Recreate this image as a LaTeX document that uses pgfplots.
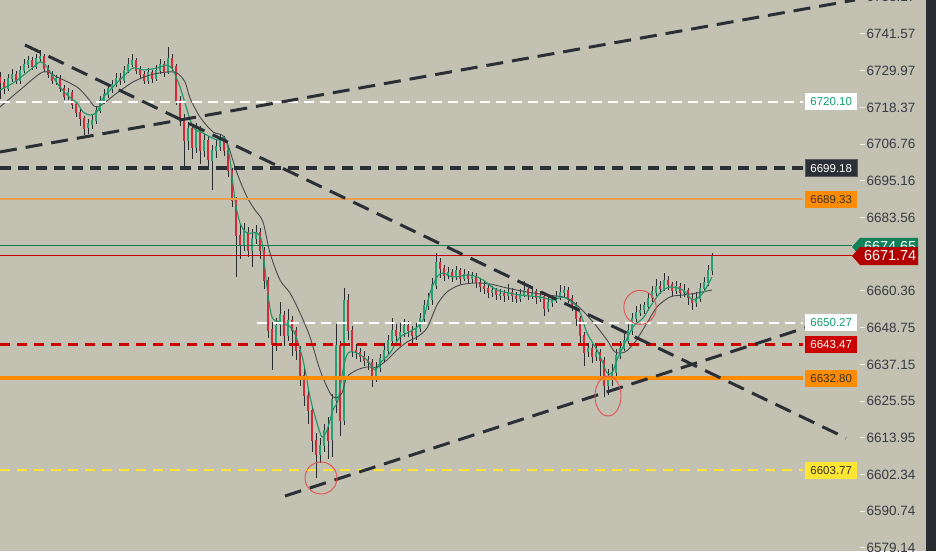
\documentclass[border=0pt]{standalone}
\usepackage{pgfplots}
\pgfplotsset{compat=1.18}
\usepackage{pgfplotstable}
\usepackage{fontspec}
\setmainfont{Liberation Sans}
\definecolor{bg}{RGB}{194,193,178}
\definecolor{stripe}{RGB}{40,43,47}
\definecolor{wick}{RGB}{40,44,48}
\definecolor{upc}{RGB}{38,161,116}
\definecolor{dnc}{RGB}{214,40,57}
\definecolor{magreen}{RGB}{30,150,105}
\definecolor{magray}{RGB}{70,73,76}
\definecolor{trend}{RGB}{43,48,54}
\definecolor{lred}{RGB}{204,0,0}
\definecolor{lorange}{RGB}{255,140,0}
\definecolor{lorange2}{RGB}{232,160,80}
\definecolor{lyellow}{RGB}{255,230,50}
\definecolor{lgreen}{RGB}{20,120,80}
\definecolor{tagred}{RGB}{178,0,0}
\definecolor{taggreen}{RGB}{16,128,88}
\definecolor{txtgreen}{RGB}{20,160,110}
\definecolor{ticktxt}{RGB}{55,60,66}
\definecolor{circred}{RGB}{228,80,80}

\pgfplotstableread{
x o h l c
0 6728.0 6729.5 6721.0 6726.40
4 6726.40 6727.5 6722.8 6724.50
8 6724.50 6729.0 6723.6 6727.66
12 6727.66 6730.6 6726.5 6728.93
16 6728.93 6730.0 6725.8 6727.03
20 6727.03 6731.6 6726.0 6730.19
24 6730.19 6733.8 6729.2 6732.09
28 6732.09 6734.6 6730.8 6733.35
32 6733.35 6734.4 6730.2 6731.45
36 6731.45 6735.3 6730.6 6733.98
40 6733.98 6736.6 6732.8 6734.61
44 6734.61 6735.4 6729.7 6730.82
48 6730.82 6731.9 6727.6 6728.93
52 6728.93 6730.1 6725.9 6727.03
56 6727.03 6728.8 6725.6 6727.66
60 6727.66 6728.6 6723.2 6724.50
64 6724.50 6725.5 6720.6 6721.97
68 6721.97 6724.6 6720.8 6723.24
72 6723.24 6724.0 6718.0 6719.45
76 6719.45 6720.3 6715.5 6716.92
80 6716.92 6718.1 6712.6 6715.02
84 6715.02 6715.8 6709.6 6711.86
88 6711.86 6714.6 6709.9 6713.13
92 6713.13 6716.2 6711.8 6714.39
96 6714.39 6718.9 6713.4 6717.55
100 6717.55 6722.0 6716.6 6720.71
104 6720.71 6724.2 6719.6 6722.61
108 6722.61 6726.0 6721.4 6724.50
112 6724.50 6727.3 6723.0 6725.77
116 6725.77 6729.2 6724.8 6727.66
120 6727.66 6729.5 6725.6 6727.03
124 6727.03 6731.4 6726.2 6730.19
128 6730.19 6733.9 6729.3 6732.09
132 6732.09 6735.2 6731.0 6733.35
136 6733.35 6734.0 6729.0 6730.19
140 6730.19 6731.5 6727.4 6728.93
144 6728.93 6729.8 6725.7 6727.03
148 6727.03 6731.0 6726.0 6729.56
152 6729.56 6730.4 6726.2 6727.66
156 6727.66 6731.8 6726.8 6730.19
160 6730.19 6733.6 6729.0 6732.09
164 6732.09 6733.0 6728.2 6729.56
168 6729.56 6737.5 6729.0 6733.98
172 6733.98 6735.2 6729.8 6731.45
176 6731.45 6732.0 6719.0 6720.71
180 6720.71 6722.0 6712.5 6715.02
184 6715.02 6716.3 6699.5 6708.07
188 6708.07 6713.8 6705.0 6711.86
192 6711.86 6713.0 6702.0 6705.54
196 6705.54 6713.5 6704.0 6711.23
200 6711.23 6712.5 6700.5 6704.91
204 6704.91 6710.2 6702.8 6708.07
208 6708.07 6709.3 6699.0 6701.75
212 6701.75 6706.5 6692.3 6704.91
216 6704.91 6708.0 6702.5 6706.17
220 6706.17 6709.8 6704.6 6708.07
224 6708.07 6709.5 6703.2 6704.91
228 6704.91 6706.0 6696.5 6698.59
232 6698.59 6699.5 6687.0 6689.11
236 6689.11 6690.0 6664.8 6678.05
240 6678.05 6681.5 6670.5 6674.89
244 6674.89 6682.0 6673.0 6679.00
248 6679.00 6680.5 6671.0 6673.31
252 6673.31 6679.8 6668.0 6677.10
256 6677.10 6681.3 6675.2 6679.00
260 6679.00 6680.2 6670.5 6673.31
264 6673.31 6674.2 6661.0 6663.83
268 6663.83 6665.0 6645.5 6648.03
272 6648.03 6650.5 6635.4 6643.29
276 6643.29 6652.0 6641.5 6649.61
280 6649.61 6657.0 6646.0 6652.77
284 6652.77 6654.0 6643.0 6646.45
288 6646.45 6654.8 6644.5 6651.19
292 6651.19 6652.5 6640.0 6648.03
296 6648.03 6649.0 6638.5 6641.71
300 6641.71 6643.0 6630.5 6633.81
304 6633.81 6636.0 6624.0 6627.49
308 6627.49 6630.0 6618.5 6622.75
312 6622.75 6624.0 6609.5 6613.27
316 6613.27 6615.5 6601.5 6608.53
320 6608.53 6614.0 6606.0 6611.69
324 6611.69 6618.5 6609.5 6616.43
328 6616.43 6620.5 6607.5 6613.27
332 6613.27 6628.0 6608.0 6625.91
336 6625.91 6650.0 6622.0 6643.29
340 6643.29 6644.5 6614.5 6619.59
344 6619.59 6661.3 6618.0 6657.51
348 6657.51 6659.5 6645.0 6648.03
352 6648.03 6649.5 6639.5 6641.71
356 6641.71 6643.5 6639.0 6641.08
360 6641.08 6642.5 6638.0 6639.81
364 6639.81 6641.5 6636.8 6638.55
368 6638.55 6640.0 6635.5 6637.92
372 6637.92 6639.0 6630.0 6633.81
376 6633.81 6638.0 6631.5 6636.02
380 6636.02 6640.5 6634.8 6639.18
384 6639.18 6644.0 6638.0 6641.71
388 6641.71 6646.5 6640.5 6644.87
392 6644.87 6652.0 6643.5 6648.03
396 6648.03 6650.0 6644.5 6646.45
400 6646.45 6650.3 6643.8 6647.40
404 6647.40 6651.5 6645.8 6649.61
408 6649.61 6651.0 6646.0 6648.03
412 6648.03 6649.5 6643.5 6646.45
416 6646.45 6650.5 6645.0 6648.66
420 6648.66 6653.5 6647.5 6651.82
424 6651.82 6657.5 6650.5 6655.93
428 6655.93 6659.8 6654.5 6657.51
432 6657.51 6664.5 6656.0 6662.25
436 6662.25 6672.4 6661.0 6669.52
440 6669.52 6670.8 6664.5 6667.62
444 6667.62 6668.5 6663.5 6665.41
448 6665.41 6668.0 6664.0 6666.36
452 6666.36 6667.5 6663.2 6665.09
456 6665.09 6668.3 6664.0 6666.99
460 6666.99 6667.8 6662.8 6664.46
464 6664.46 6667.2 6663.5 6665.73
468 6665.73 6666.8 6662.8 6664.46
472 6664.46 6666.5 6663.0 6665.09
476 6665.09 6666.0 6661.5 6663.20
480 6663.20 6664.5 6660.2 6661.93
484 6661.93 6663.5 6659.5 6661.30
488 6661.30 6662.5 6658.3 6660.04
492 6660.04 6662.0 6658.5 6660.67
496 6660.67 6661.5 6657.5 6659.09
500 6659.09 6661.0 6657.6 6659.41
504 6659.41 6660.6 6657.0 6658.77
508 6658.77 6662.8 6657.5 6660.04
512 6660.04 6661.2 6657.0 6658.77
516 6658.77 6660.0 6656.5 6658.14
520 6658.14 6661.0 6657.0 6659.41
524 6659.41 6663.5 6658.5 6660.67
528 6660.67 6661.5 6657.5 6659.09
532 6659.09 6661.8 6657.8 6660.04
536 6660.04 6661.0 6656.5 6658.14
540 6658.14 6660.5 6656.8 6658.77
544 6658.77 6659.5 6652.5 6654.98
548 6654.98 6658.5 6653.8 6656.88
552 6656.88 6659.0 6655.5 6657.51
556 6657.51 6660.5 6656.5 6658.77
560 6658.77 6662.5 6657.8 6660.04
564 6660.04 6662.0 6658.5 6660.67
568 6660.67 6661.5 6656.5 6658.14
572 6658.14 6659.0 6654.0 6655.93
576 6655.93 6657.0 6649.5 6651.82
580 6651.82 6652.5 6644.0 6646.45
584 6646.45 6647.5 6636.5 6641.08
588 6641.08 6644.0 6639.5 6642.34
592 6642.34 6643.5 6637.5 6639.81
596 6639.81 6643.0 6638.5 6641.08
600 6641.08 6642.0 6633.0 6638.55
604 6638.55 6639.5 6626.9 6630.65
608 6630.65 6636.0 6627.5 6632.86
612 6632.86 6637.5 6630.5 6634.76
616 6634.76 6642.0 6633.5 6640.13
620 6640.13 6644.5 6639.0 6642.34
624 6642.34 6647.0 6641.5 6644.87
628 6644.87 6650.0 6643.5 6648.03
632 6648.03 6653.5 6646.5 6651.82
636 6651.82 6655.5 6650.5 6653.72
640 6653.72 6656.3 6652.5 6654.35
644 6654.35 6657.0 6653.0 6655.61
648 6655.61 6660.0 6654.5 6658.14
652 6658.14 6662.0 6657.0 6660.04
656 6660.04 6664.0 6658.8 6661.93
660 6661.93 6663.5 6659.5 6661.30
664 6661.30 6666.0 6660.5 6663.83
668 6663.83 6665.0 6660.8 6662.57
672 6662.57 6663.5 6658.8 6660.67
676 6660.67 6663.8 6659.5 6661.93
680 6661.93 6662.8 6658.3 6660.04
684 6660.04 6662.5 6658.5 6660.67
688 6660.67 6661.5 6656.0 6658.14
692 6658.14 6659.5 6654.5 6656.88
696 6656.88 6660.0 6655.5 6658.14
700 6658.14 6662.8 6657.0 6661.30
704 6661.30 6664.8 6660.0 6663.20
708 6663.20 6668.5 6662.0 6666.99
712 6666.99 6672.5 6665.5 6671.74
}\candles

\begin{document}
\begin{tikzpicture}
\useasboundingbox (0,0) rectangle (936pt,551pt);
\fill[bg] (0,0) rectangle (936pt,551pt);
\fill[stripe] (926pt,0) rectangle (936pt,551pt);
\begin{axis}[
  at={(0,0)}, anchor=south west,
  scale only axis, width=860pt, height=551pt,
  xmin=0, xmax=860, ymin=6578.19, ymax=6752.31,
  axis line style={draw=none},
  xtick=\empty,
  ytick={6579.14,6590.74,6602.34,6613.95,6625.55,6637.15,6648.75,6660.36,6683.56,6695.16,6706.76,6718.37,6729.97,6741.57},
  yticklabels={6579.14,6590.74,6602.34,6613.95,6625.55,6637.15,6648.75,6660.36,6683.56,6695.16,6706.76,6718.37,6729.97,6741.57},
  ytick pos=right, yticklabel pos=right,
  tick align=outside, major tick length=5pt,
  tick style={draw=white!90!gray, line width=1pt},
  yticklabel style={font=\fontsize{13.5}{14}\selectfont, text=ticktxt, inner sep=1.5pt},
  clip=false,
]
% wicks
\addplot[draw=none, mark=none, forget plot,
  error bars/.cd, y dir=both, y explicit, error mark=none,
  error bar style={draw=wick, line width=1pt}]
  table[x=x, y expr={(\thisrow{h}+\thisrow{l})/2}, y error expr={(\thisrow{h}-\thisrow{l})/2}] {\candles};
% up bodies
\addplot[draw=none, mark=none, forget plot, restrict y to domain=6500:6800, unbounded coords=discard,
  error bars/.cd, y dir=both, y explicit, error mark=none,
  error bar style={draw=upc, line width=2.6pt}]
  table[x=x, y expr={\thisrow{c}>=\thisrow{o} ? (\thisrow{o}+\thisrow{c})/2 : 0}, y error expr={abs(\thisrow{c}-\thisrow{o})/2+0.15}] {\candles};
% down bodies
\addplot[draw=none, mark=none, forget plot, restrict y to domain=6500:6800, unbounded coords=discard,
  error bars/.cd, y dir=both, y explicit, error mark=none,
  error bar style={draw=dnc, line width=2.6pt}]
  table[x=x, y expr={\thisrow{c}<\thisrow{o} ? (\thisrow{o}+\thisrow{c})/2 : 0}, y error expr={abs(\thisrow{c}-\thisrow{o})/2+0.15}] {\candles};

% slow MA
\addplot[magray, line width=0.9pt, mark=none, smooth, tension=0.5] coordinates {
(0,6718.50)(20,6723.87)(43,6729.56)(57,6727.98)(77,6724.82)(87,6721.66)(97,6718.50)(117,6722.92)(133,6726.40)(150,6728.61)(167,6729.56)(177,6729.24)(185,6726.40)(190,6721.34)(200,6715.34)(213,6710.60)(225,6708.70)(237,6697.64)(247,6690.06)(255,6685.95)(263,6682.16)(270,6672.36)(280,6663.83)(290,6659.72)(300,6653.40)(310,6645.82)(320,6635.39)(330,6628.12)(336,6626.54)(342,6628.12)(347,6633.18)(357,6635.39)(367,6636.34)(377,6636.34)(387,6638.55)(397,6641.71)(407,6644.24)(417,6645.82)(427,6648.66)(437,6655.93)(447,6660.04)(460,6662.25)(475,6662.88)(490,6662.57)(507,6661.30)(527,6660.04)(547,6659.09)(567,6658.14)(580,6654.98)(593,6650.56)(607,6644.87)(615,6641.08)(625,6641.08)(635,6644.24)(647,6650.24)(657,6655.30)(670,6658.46)(683,6659.09)(697,6659.72)(712,6660.67)};
% fast MA
\addplot[magreen, line width=1.1pt, mark=none, smooth, tension=0.5] coordinates {
(0,6723.87)(13,6726.08)(30,6730.19)(40,6732.72)(47,6731.14)(57,6726.08)(67,6722.29)(77,6719.76)(83,6716.92)(90,6715.97)(97,6716.92)(103,6721.34)(113,6724.82)(123,6727.98)(133,6730.82)(143,6730.19)(157,6730.82)(167,6731.77)(173,6730.19)(180,6724.82)(185,6719.76)(193,6712.18)(203,6710.28)(217,6708.07)(225,6708.70)(230,6701.75)(235,6689.11)(240,6681.84)(247,6678.68)(257,6678.68)(262,6675.52)(267,6661.62)(272,6652.14)(280,6650.56)(293,6648.03)(303,6638.55)(310,6626.86)(317,6618.64)(322,6614.22)(327,6616.43)(333,6622.75)(338,6625.91)(343,6635.39)(348,6640.76)(357,6640.76)(367,6638.55)(375,6635.39)(380,6637.60)(390,6640.76)(400,6645.82)(413,6648.03)(423,6651.19)(430,6659.72)(437,6664.78)(443,6666.04)(453,6664.78)(470,6665.41)(483,6663.83)(497,6660.67)(520,6659.09)(540,6658.46)(553,6657.51)(563,6658.46)(573,6656.56)(580,6653.72)(587,6647.08)(597,6641.71)(603,6637.60)(607,6634.44)(612,6634.44)(617,6638.55)(623,6642.66)(633,6648.98)(643,6651.82)(650,6655.30)(660,6659.72)(670,6661.62)(683,6660.67)(693,6657.51)(703,6659.72)(712,6664.78)};

% horizontal levels
\addplot[white, line width=2.5pt, mark=none, dash pattern=on 10pt off 6pt] coordinates {(0,6720.10)(803,6720.10)};
\addplot[trend, line width=4pt, mark=none, dash pattern=on 11pt off 7pt] coordinates {(0,6699.18)(803,6699.18)};
\addplot[lorange2, line width=1.6pt, mark=none] coordinates {(0,6689.33)(803,6689.33)};
\addplot[lgreen, line width=0.9pt, mark=none] coordinates {(0,6674.65)(852,6674.65)};
\addplot[lred, line width=0.9pt, mark=none] coordinates {(0,6671.74)(852,6671.74)};
\addplot[white, line width=2.5pt, mark=none, dash pattern=on 10pt off 6pt] coordinates {(257,6650.27)(803,6650.27)};
\addplot[lred, line width=3pt, mark=none, dash pattern=on 10pt off 7pt] coordinates {(0,6643.47)(803,6643.47)};
\addplot[lorange, line width=4pt, mark=none] coordinates {(0,6632.80)(803,6632.80)};
\addplot[lyellow, line width=2.5pt, mark=none, dash pattern=on 10pt off 7pt] coordinates {(0,6603.77)(803,6603.77)};

% trend lines
\addplot[trend, line width=3pt, mark=none, dash pattern=on 17pt off 9pt] coordinates {(0,6704.28)(855,6752.31)};
\addplot[trend, line width=3pt, mark=none, dash pattern=on 17pt off 9pt] coordinates {(25,6738.09)(846,6613.90)};
\addplot[trend, line width=3pt, mark=none, dash pattern=on 17pt off 9pt] coordinates {(285,6595.57)(845,6652.77)};

% circles
\addplot[only marks, mark=o, mark size=16pt, mark options={draw=circred, line width=0.9pt}] coordinates {(321,6601.26)};
\addplot[only marks, mark=o, mark size=20pt, mark options={draw=circred, line width=0.9pt, xscale=0.65}] coordinates {(608,6627.17)};
\addplot[only marks, mark=o, mark size=17pt, mark options={draw=circred, line width=0.9pt, xscale=0.95}] coordinates {(640,6655.18)};

% level labels
\tikzset{lbl/.style={anchor=west, minimum width=52pt, minimum height=17pt, inner sep=0pt, font=\fontsize{11.5}{12}\selectfont}}
\node[lbl, fill=white, text=txtgreen] at (axis cs:805,6720.10) {6720.10};
\node[lbl, fill=trend, draw=gray!70!black, text=white] at (axis cs:805,6699.18) {6699.18};
\node[lbl, fill=lorange, text=black!80] at (axis cs:805,6689.33) {6689.33};
\node[lbl, fill=white, text=txtgreen] at (axis cs:805,6650.27) {6650.27};
\node[lbl, fill=lred, text=white] at (axis cs:805,6643.47) {6643.47};
\node[lbl, fill=lorange, text=black!80] at (axis cs:805,6632.80) {6632.80};
\node[lbl, fill=lyellow, text=black!80] at (axis cs:805,6603.77) {6603.77};

% price tags
\fill[taggreen] (axis cs:852,6674.30) -- ++(8pt,9pt) -- ++(58pt,0pt) -- ++(0pt,-18pt) -- ++(-58pt,0pt) -- cycle;
\node[anchor=west, text=white, inner sep=2pt, font=\fontsize{14.4}{15}\selectfont] at (axis cs:862,6674.30) {6674.65};
\fill[tagred] (axis cs:852,6671.41) -- ++(8pt,9pt) -- ++(58pt,0pt) -- ++(0pt,-18pt) -- ++(-58pt,0pt) -- cycle;
\node[anchor=west, text=white, inner sep=2pt, font=\fontsize{14.4}{15}\selectfont] at (axis cs:862,6671.41) {6671.74};
\node[anchor=west, text=ticktxt, inner sep=1.5pt, xshift=5pt, font=\fontsize{13.5}{14}\selectfont] at (axis cs:860,6753.17) {6753.17};
\end{axis}
\end{tikzpicture}
\end{document}
